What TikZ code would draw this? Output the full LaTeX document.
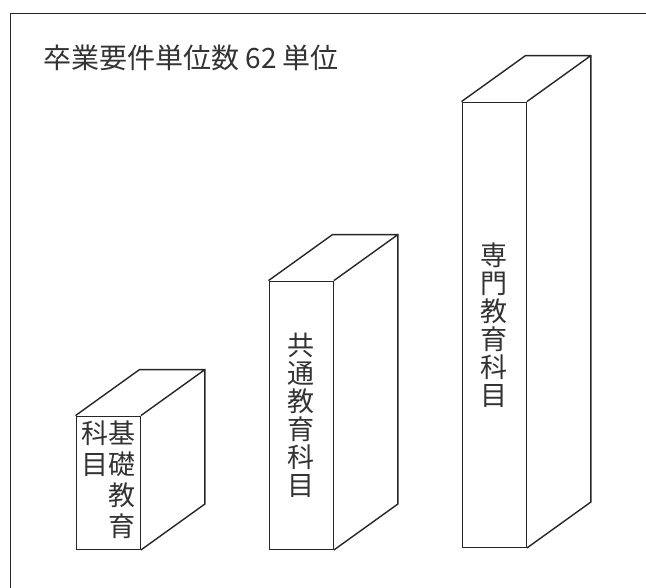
\documentclass[tikz,border=0pt]{standalone}
\usepackage{fontspec}
\setmainfont{Noto Sans CJK JP}
\usepackage{tikz}
\usetikzlibrary{positioning}

\begin{document}
\begin{tikzpicture}[x=1pt,y=1pt,line width=1.4pt,draw=black!85]
  \tikzstyle{spine}=[draw=black!85,fill=white,inner sep=0pt,anchor=south west,
                     minimum width=64pt,align=center,text=black!80,
                     font=\fontsize{27}{28}\selectfont]
  \useasboundingbox (0,0) rectangle (646,588);
  \draw (10.5,-5) |- (651,574.5);

  \node[anchor=west,inner sep=0pt,text=black!80,
        font=\fontsize{28}{28}\selectfont] (title) at (42.5,530) {卒業要件単位数 62 単位};

  \node[spine,minimum height=133pt] (kiso)   at (75.5,38)  {\begin{tabular}{@{}c@{}c@{}}科&基\\目&礎\\&教\\&育\end{tabular}};
  \node[spine,minimum height=268pt] (kyotsu) at (268.5,38) {共\\通\\教\\育\\科\\目};
  \node[spine,minimum height=445pt] (senmon) at (461.5,40) {専\\門\\教\\育\\科\\目};

  \foreach \n in {kiso,kyotsu,senmon}
    \draw (\n.north west) -- +(64,46) -- ([shift={(64,46)}]\n.north east)
          -- ([shift={(64,46)}]\n.south east) -- (\n.south east)
          (\n.north east) -- +(64,46);
\end{tikzpicture}
\end{document}
